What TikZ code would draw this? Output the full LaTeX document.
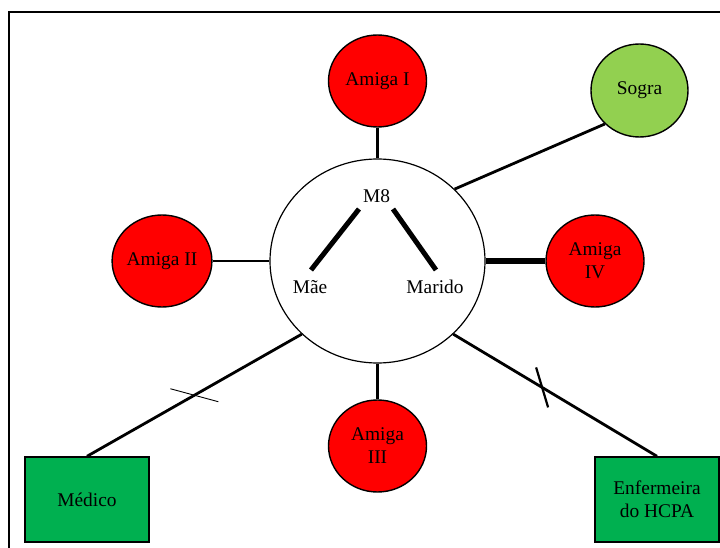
\documentclass[tikz,border=0pt]{standalone}
\usepackage{fontspec}
\setmainfont{Liberation Serif}
\newfontfamily\timesfont{Liberation Serif}
\usetikzlibrary{shapes.geometric}

\definecolor{amigared}{HTML}{FF0000}
\definecolor{sogragreen}{HTML}{92D050}
\definecolor{hcpagreen}{HTML}{00B050}

\begin{document}
\begin{tikzpicture}[-,x=1pt,y=1pt,line width=2.8pt,
                    font=\timesfont\fontsize{19.4}{23}\selectfont]
  \tikzstyle{person}=[ellipse,draw,line width=1.4pt,inner sep=0pt,
                      minimum width=98pt,minimum height=92pt,align=center]
  \tikzstyle{amiga}=[person,fill=amigared]
  \tikzstyle{staff}=[rectangle,draw,line width=1.4pt,fill=hcpagreen,
                     minimum width=124pt,minimum height=85pt,align=center]
  \tikzstyle{member}=[anchor=base,inner sep=0pt]
  \tikzstyle{bond}=[line width=5pt]

  \useasboundingbox (0,0) rectangle (720,547);
  \draw[line width=2pt] (9,-10) |- (740,535);

  \node[ellipse,draw,line width=1.2pt,inner sep=0pt,
        minimum width=215pt,minimum height=204pt] (m8) at (377.5,286) {};
  \node[amiga]	(amigaI)	[above of=m8,node distance=180pt]	{Amiga I};
  \node[amiga]	(amigaII)	[left of=m8,node distance=215.5pt]	{Amiga II};
  \node[amiga]	(amigaIII)	[below of=m8,node distance=185pt]	{Amiga\\III};
  \node[amiga]	(amigaIV)	[right of=m8,node distance=217.5pt]	{Amiga\\IV};
  \node[person,fill=sogragreen,minimum width=97pt,minimum height=93pt]
                (sogra)   at (639.5,456.5)  {Sogra};
  \node[staff]	(medico)	at (87,47.5)	{Médico};
  \node[staff]	(enfermeira)	at (657,47.5)	{Enfermeira\\do HCPA};

  % inside the family circle
  \node[member]	(m8t)	at (376.5,344)	{M8};
  \node[member]	(mae)	at (310,254)	{Mãe};
  \node[member]	(marido)	at (435,254)	{Marido};
  \draw[bond] ([shift={(-17.5,-6)}]m8t.base) -- ([shift={(1,23)}]mae.base);
  \draw[bond] ([shift={(16.5,-6)}]m8t.base) -- ([shift={(1,23)}]marido.base);

  \path (amigaI)	edge	(m8)
        (amigaII)	edge	(m8)
        (amigaIII)	edge	(m8)
        (amigaIV)	edge [line width=5.5pt]	(m8)
        (sogra.-136)	edge	(m8.43)
        (medico.north)	edge	(m8.-136)
        (enfermeira.north)	edge	(m8.-44);

  % broken ties
  \path (medico.north) -- coordinate[pos=0.5] (cutmed) (m8.-136);
  \path (m8.-44) -- coordinate[pos=0.436] (cutenf) (enfermeira.north);
  \draw[line width=0.9pt] ([shift={(-24,6.5)}]cutmed) -- ([shift={(24,-6.5)}]cutmed);
  \draw[line width=2.2pt] ([shift={(-6,20)}]cutenf) -- ([shift={(6,-20)}]cutenf);
\end{tikzpicture}
\end{document}
